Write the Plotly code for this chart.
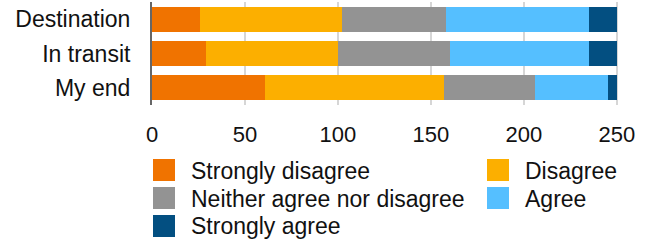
import plotly.graph_objects as go

categories = ["Destination", "In transit", "My end"]
series_names = ["Strongly disagree", "Disagree", "Neither agree nor disagree", "Agree", "Strongly agree"]
strongly_disagree = [26, 29, 61]
disagree = [76, 71, 96]
neither = [56, 60, 49]
agree = [77, 75, 39]
strongly_agree = [15, 15, 5]
x_ticks = [0, 50, 100, 150, 200, 250]

series_values = [strongly_disagree, disagree, neither, agree, strongly_agree]
colors = ["#F07300", "#FCAF00", "#939393", "#55BFFF", "#034F81"]

FONT = "Liberation Sans, Arial, Helvetica, sans-serif"
W, H = 650, 246
L, R, T, B = 152, 32, 2, 141
pw, ph = W - L - R, H - T - B

fig = go.Figure()
for name, vals, col in zip(series_names, series_values, colors):
    fig.add_trace(go.Bar(y=categories, x=vals, name=name, orientation="h",
                         marker=dict(color=col, line=dict(width=0)), showlegend=False,
                         hoverinfo="skip"))

def px2paper(xp, yp):
    return (xp - L) / pw, (H - B - yp) / ph

shapes, annotations = [], []
legend_pos = [(153, 159), (487, 159), (153, 187), (487, 187), (153, 215)]
for name, col, (lx, ly) in zip(series_names, colors, legend_pos):
    x0, y1 = px2paper(lx, ly)
    x1, y0 = px2paper(lx + 22, ly + 22)
    shapes.append(dict(type="rect", xref="paper", yref="paper", x0=x0, x1=x1, y0=y0, y1=y1,
                       fillcolor=col, line=dict(width=0)))
    tx, ty = px2paper(lx + 36, ly + 11.5)
    annotations.append(dict(xref="paper", yref="paper", x=tx, y=ty, text=name, showarrow=False,
                            xanchor="left", yanchor="middle",
                            font=dict(family=FONT, size=23, color="#111111")))

fig.update_layout(
    width=W, height=H, barmode="stack", bargap=0.28,
    margin=dict(l=L, r=R, t=T, b=B, pad=0),
    paper_bgcolor="white", plot_bgcolor="white",
    font=dict(family=FONT, size=22, color="#111111"),
    shapes=shapes, annotations=annotations,
    xaxis=dict(range=[0, 250.6], tickvals=x_ticks, showgrid=True, gridcolor="#D6D6D6", gridwidth=1.5,
               zeroline=False, showline=False, ticks="outside", ticklen=10, tickcolor="rgba(0,0,0,0)",
               tickfont=dict(size=22)),
    yaxis=dict(autorange="reversed", showline=True, linecolor="#666666", linewidth=2,
               ticks="outside", ticklen=15, tickcolor="rgba(0,0,0,0)", tickfont=dict(size=23),
               showgrid=False),
)
fig.write_html("out.html", config={"displayModeBar": False},
               post_script="document.body.style.margin='0';")
